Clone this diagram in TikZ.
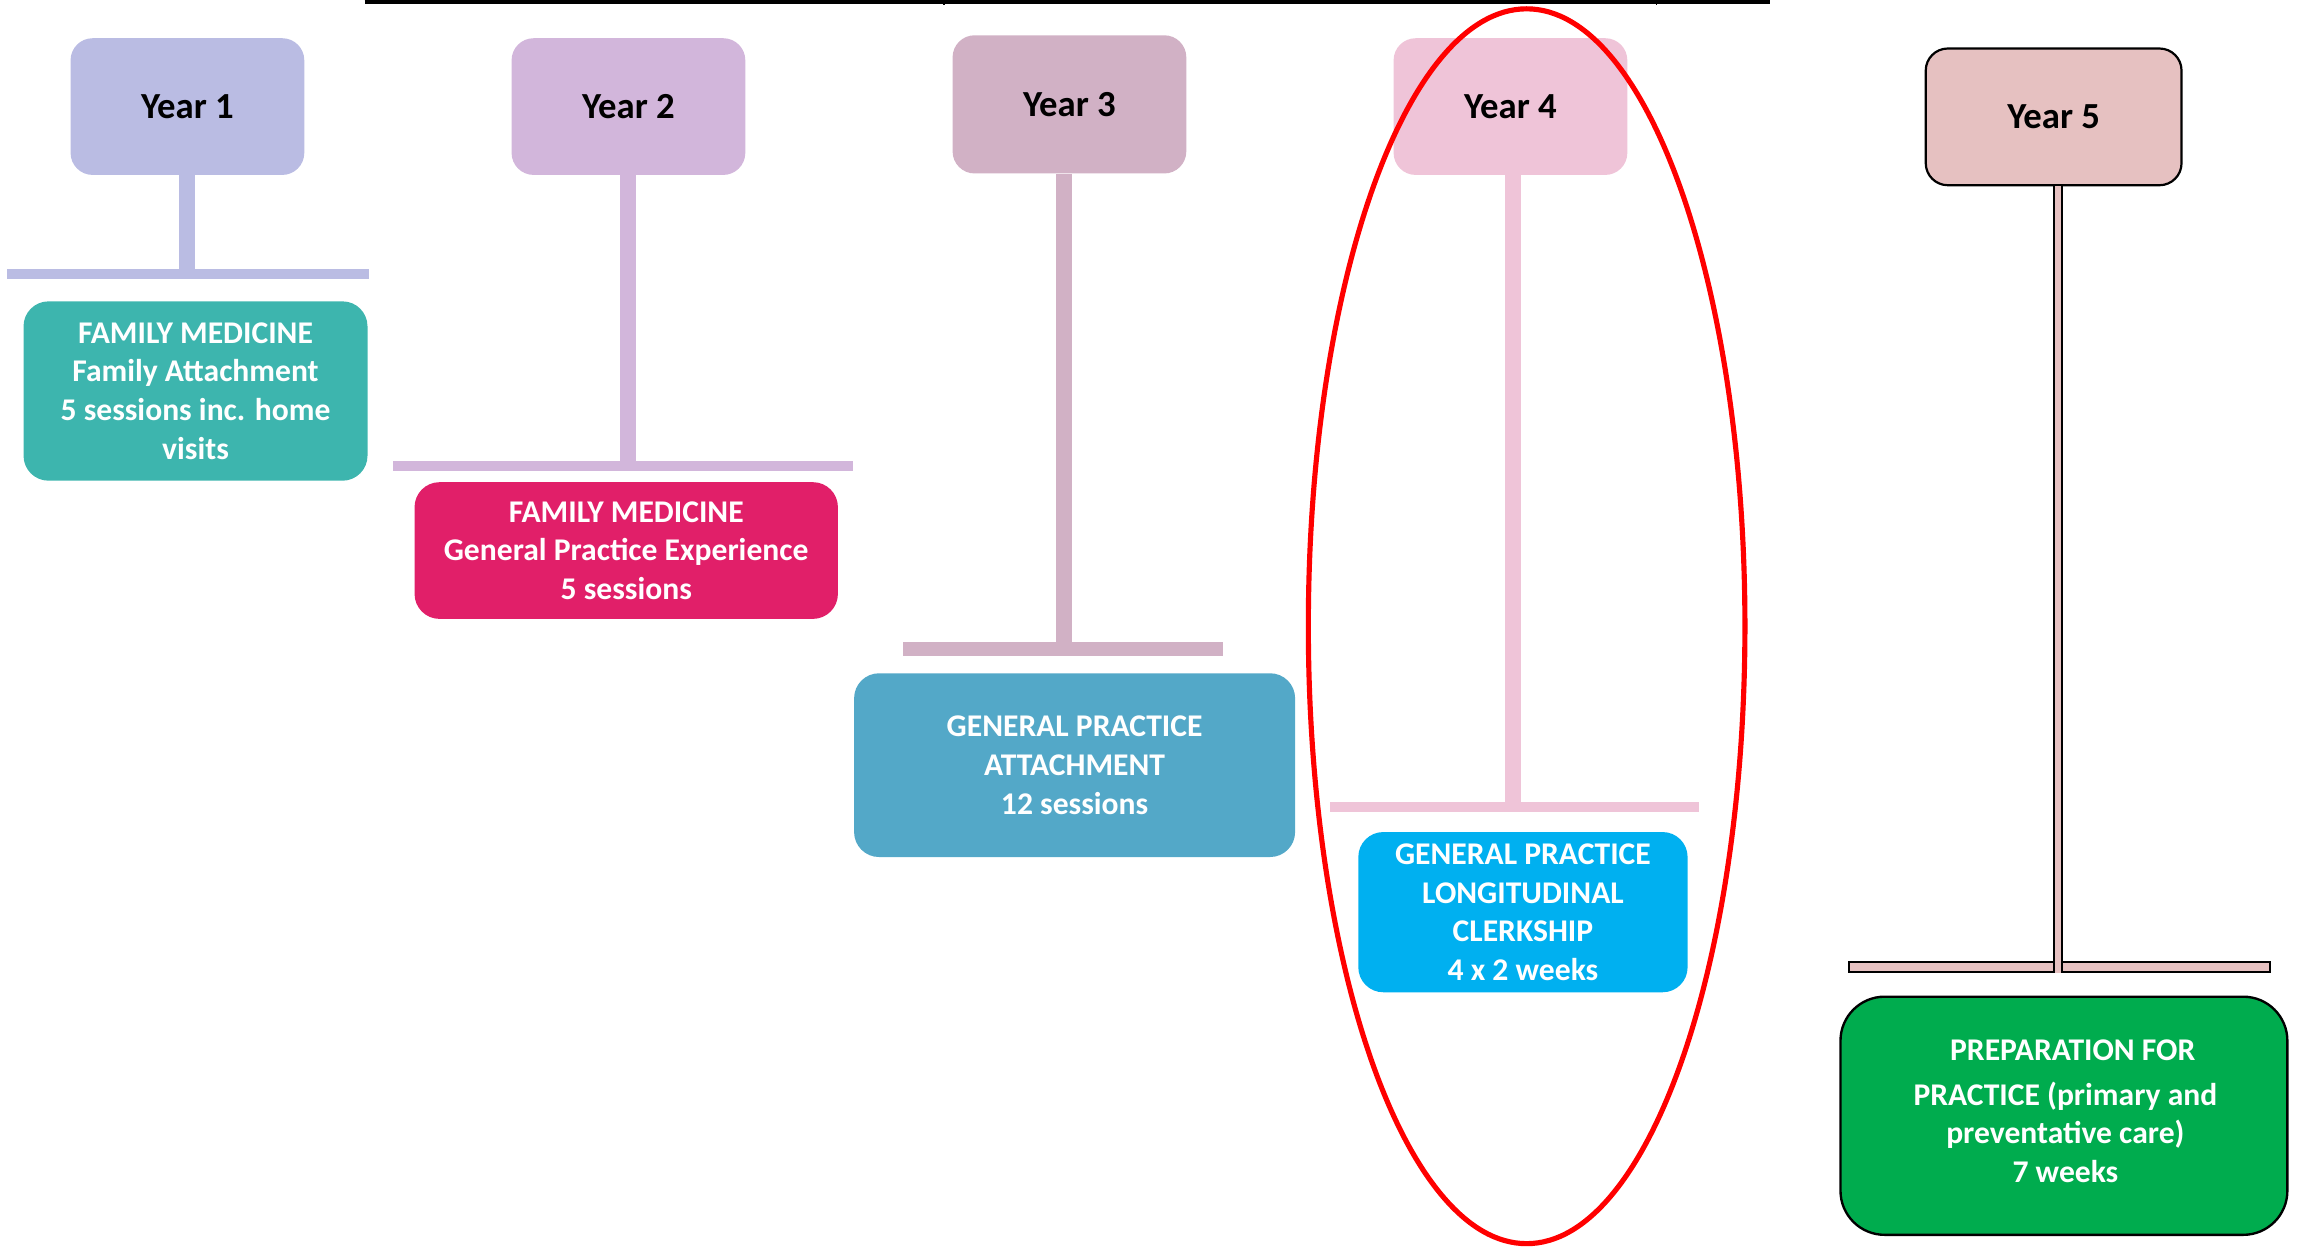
\documentclass[tikz,border=0pt]{standalone}
\usepackage{fontspec}
\setmainfont{Carlito}
\usetikzlibrary{positioning}

\definecolor{yrA}{HTML}{BABCE3}
\definecolor{yrB}{HTML}{D2B6DB}
\definecolor{yrC}{HTML}{D1B1C5}
\definecolor{yrD}{HTML}{EFC4D8}
\definecolor{yrE}{HTML}{E6C1C1}
\definecolor{bxA}{HTML}{3DB5AE}
\definecolor{bxB}{HTML}{E11F69}
\definecolor{bxC}{HTML}{53A8C8}
\definecolor{bxD}{HTML}{00B0F0}
\definecolor{bxE}{HTML}{00AC4E}

\tikzset{
  yearbox/.style={rectangle, rounded corners=15pt, inner sep=0pt,
    minimum width=159pt, minimum height=93pt,
    font=\fontsize{25}{30}\selectfont\bfseries, text=black},
  unitbox/.style={rectangle, rounded corners=17pt, inner sep=0pt,
    align=center, text=white,
    font=\fontsize{21.5}{26.3}\selectfont\bfseries},
  crossbar/.style={rectangle, inner sep=0pt, minimum height=7pt},
  stem/.style={line width=11pt},
}

\begin{document}
\begin{tikzpicture}[x=1pt, y=-1pt]
\useasboundingbox (0,0) rectangle (1568,848);

% top rule
\draw[line width=2.5pt, black] (248,1.2) -- (1204,1.2);
\draw[line width=1pt, black] (642,0) -- (642,3.5);
\draw[line width=1pt, black] (1127,0) -- (1127,3.5);

% year headers
\node[yearbox, fill=yrA] (y1) at (127.5,72.5) {Year 1};
\node[yearbox, fill=yrB] (y2) at (427.5,72.5) {Year 2};
\node[yearbox, fill=yrC, minimum height=94pt] (y3) at (727.5,71) {Year 3};
\node[yearbox, fill=yrD] (y4) at (1027.5,72.5) {Year 4};
\node[yearbox, fill=yrE, draw=black, line width=1.5pt,
      minimum width=174pt] (y5) at (1397,79.5) {Year 5};

% cross bars
\node[crossbar, fill=yrA, minimum width=246pt] (b1) at (128,186.5) {};
\node[crossbar, fill=yrB, minimum width=313pt] (b2) at (423.5,317) {};
\node[crossbar, fill=yrC, minimum width=218pt, minimum height=9pt] (b3) at (723,441.5) {};
\node[crossbar, fill=yrD, minimum width=251pt] (b4) at (1030.5,549) {};
\node[crossbar, fill=yrE, draw=black, line width=1.3pt,
      minimum width=286pt, minimum height=7pt] (b5) at (1401,658) {};

% stems
\draw[stem, yrA] (y1.south -| 127,0) -- (b1.center -| 127,0);
\draw[stem, yrB] (y2.south -| 427,0) -- (b2.center -| 427,0);
\draw[stem, yrC] (y3.south -| 724,0) -- (b3.center -| 724,0);
\draw[stem, yrD] (y4.south -| 1029,0) -- (b4.center -| 1029,0);
\draw[line width=1.2pt, black, double=yrE, double distance=4.2pt]
  (y5.south -| 1400,0) -- (b5.south -| 1400,0);

% placements
\node[unitbox, fill=bxA, minimum width=234pt, minimum height=122pt] (u1) at (133,266)
  {FAMILY MEDICINE\\Family Attachment\\5 sessions inc. home\\visits};
\node[unitbox, fill=bxB, minimum width=288pt, minimum height=93pt] (u2) at (426,374.5)
  {FAMILY MEDICINE\\General Practice Experience\\5 sessions};
\node[unitbox, fill=bxC, minimum width=300pt, minimum height=125pt] (u3) at (731,520.5)
  {GENERAL PRACTICE\\ATTACHMENT\\12 sessions};
\node[unitbox, fill=bxD, minimum width=224pt, minimum height=109pt] (u4) at (1036,620.5)
  {GENERAL PRACTICE\\LONGITUDINAL\\CLERKSHIP\\4 x 2 weeks};
\node[unitbox, fill=bxE, draw=black, line width=1.6pt, rounded corners=30pt,
      minimum width=304pt, minimum height=162pt] (u5) at (1404,759)
  {};
\node[unitbox, anchor=center] (u5t) at (1405,756)
  {\hspace*{10pt}PREPARATION FOR\\[4pt]PRACTICE (primary and\\preventative care)\\7 weeks};

% highlight around year 4
\draw[red, line width=3.5pt] (1038.5,426) ellipse [x radius=148.5, y radius=420];
\end{tikzpicture}
\end{document}
